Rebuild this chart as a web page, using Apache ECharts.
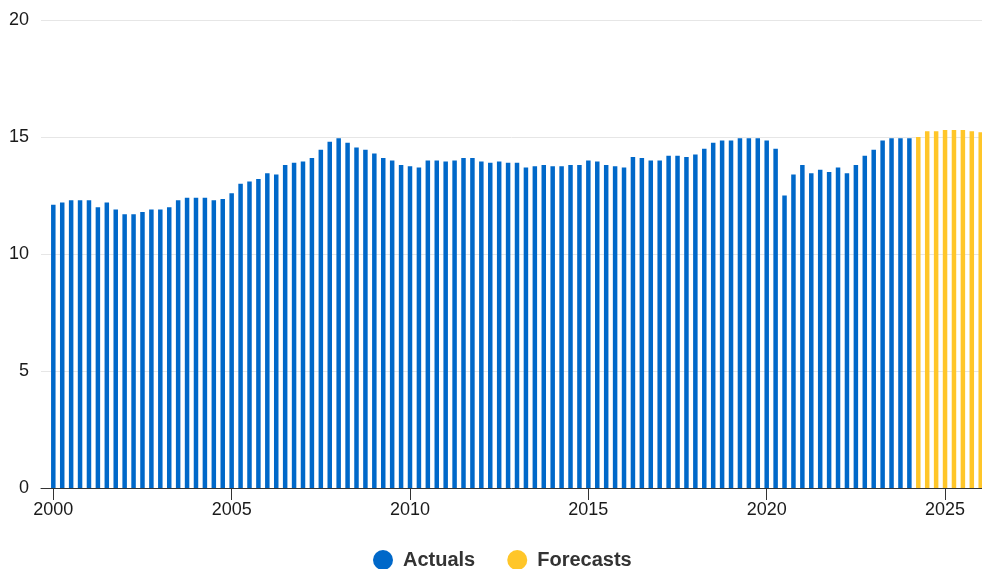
<!DOCTYPE html>
<html>
<head>
<meta charset="utf-8">
<script src="https://cdn.jsdelivr.net/npm/echarts@6/dist/echarts.min.js"></script>
<style>
  html, body { margin: 0; padding: 0; background: #ffffff; }
  #chart { width: 982px; height: 569px; }
</style>
</head>
<body>
<div id="chart"></div>
<script>
// Quarterly series: actuals from 2000 Q1, forecasts follow straight after.
const startYear = 2000;
const startQuarter = 1;

const actuals = [
  12.1, 12.2, 12.3, 12.3,     // 2000
  12.3, 12.0, 12.2, 11.9,     // 2001
  11.7, 11.7, 11.8, 11.9,     // 2002
  11.9, 12.0, 12.3, 12.4,     // 2003
  12.4, 12.4, 12.3, 12.35,    // 2004
  12.6, 13.0, 13.1, 13.2,     // 2005
  13.45, 13.4, 13.8, 13.9,    // 2006
  13.95, 14.1, 14.45, 14.8,   // 2007
  14.95, 14.75, 14.55, 14.45, // 2008
  14.3, 14.1, 14.0, 13.8,     // 2009
  13.75, 13.7, 14.0, 14.0,    // 2010
  13.95, 14.0, 14.1, 14.1,    // 2011
  13.95, 13.9, 13.95, 13.9,   // 2012
  13.9, 13.7, 13.75, 13.8,    // 2013
  13.75, 13.75, 13.8, 13.8,   // 2014
  14.0, 13.95, 13.8, 13.75,   // 2015
  13.7, 14.15, 14.1, 14.0,    // 2016
  14.0, 14.2, 14.2, 14.15,    // 2017
  14.25, 14.5, 14.75, 14.85,  // 2018
  14.85, 14.95, 14.95, 14.95, // 2019
  14.85, 14.5, 12.5, 13.4,    // 2020
  13.8, 13.45, 13.6, 13.5,    // 2021
  13.7, 13.45, 13.8, 14.2,    // 2022
  14.45, 14.85, 14.95, 14.95, // 2023
  14.95                       // 2024 Q1
];

const forecasts = [
  15.0, 15.25, 15.25,         // 2024 Q2-Q4
  15.3, 15.3, 15.3, 15.25,    // 2025
  15.2                        // 2026 Q1
];

const yearTicks = [2000, 2005, 2010, 2015, 2020, 2025];
const seriesNames = ['Actuals', 'Forecasts'];
const colors = ['#0068c9', '#ffc629'];

// Position of the n-th quarter on a decimal-year axis.
function quarterPos(n) {
  return startYear + (startQuarter - 1 + n) / 4;
}

const actualData = actuals.map((v, i) => [quarterPos(i), v]);
const forecastData = forecasts.map((v, i) => [quarterPos(actuals.length + i), v]);

const chart = echarts.init(document.getElementById('chart'), null, { renderer: 'canvas' });

chart.setOption({
  animation: false,
  color: colors,
  grid: { left: 41, right: 0, top: 20, bottom: 81, containLabel: false },
  legend: {
    data: seriesNames,
    left: 373,
    top: 550,
    padding: 0,
    icon: 'circle',
    itemWidth: 20,
    itemHeight: 20,
    itemGap: 32,
    selectedMode: false,
    textStyle: {
      fontFamily: 'Liberation Sans, Arial, sans-serif',
      fontSize: 20,
      fontWeight: 'bold',
      color: '#333333',
      padding: [0, 0, 0, 5]
    }
  },
  xAxis: {
    type: 'value',
    min: 1999.655,
    max: 2026.036,
    splitLine: { show: false },
    axisLine: { show: true, lineStyle: { color: '#333333', width: 1 } },
    axisTick: {
      show: true,
      length: 12,
      customValues: yearTicks,
      lineStyle: { color: '#333333', width: 1 }
    },
    axisLabel: {
      customValues: yearTicks,
      margin: 13,
      fontFamily: 'Liberation Sans, Arial, sans-serif',
      fontSize: 18,
      color: '#1a1a1a',
      formatter: v => String(Math.round(v))
    }
  },
  yAxis: {
    type: 'value',
    min: 0,
    max: 20,
    interval: 5,
    axisLine: { show: false },
    axisTick: { show: false },
    splitLine: { lineStyle: { color: '#e6e6e6', width: 1 } },
    axisLabel: {
      margin: 12,
      fontFamily: 'Liberation Sans, Arial, sans-serif',
      fontSize: 18,
      color: '#1a1a1a'
    }
  },
  series: [
    {
      name: seriesNames[0],
      type: 'bar',
      data: actualData,
      barWidth: 4.5,
      barGap: '-100%',
      itemStyle: { color: colors[0] },
      emphasis: { disabled: true }
    },
    {
      name: seriesNames[1],
      type: 'bar',
      data: forecastData,
      barWidth: 4.5,
      barGap: '-100%',
      itemStyle: { color: colors[1] },
      emphasis: { disabled: true }
    }
  ]
});
</script>
</body>
</html>
